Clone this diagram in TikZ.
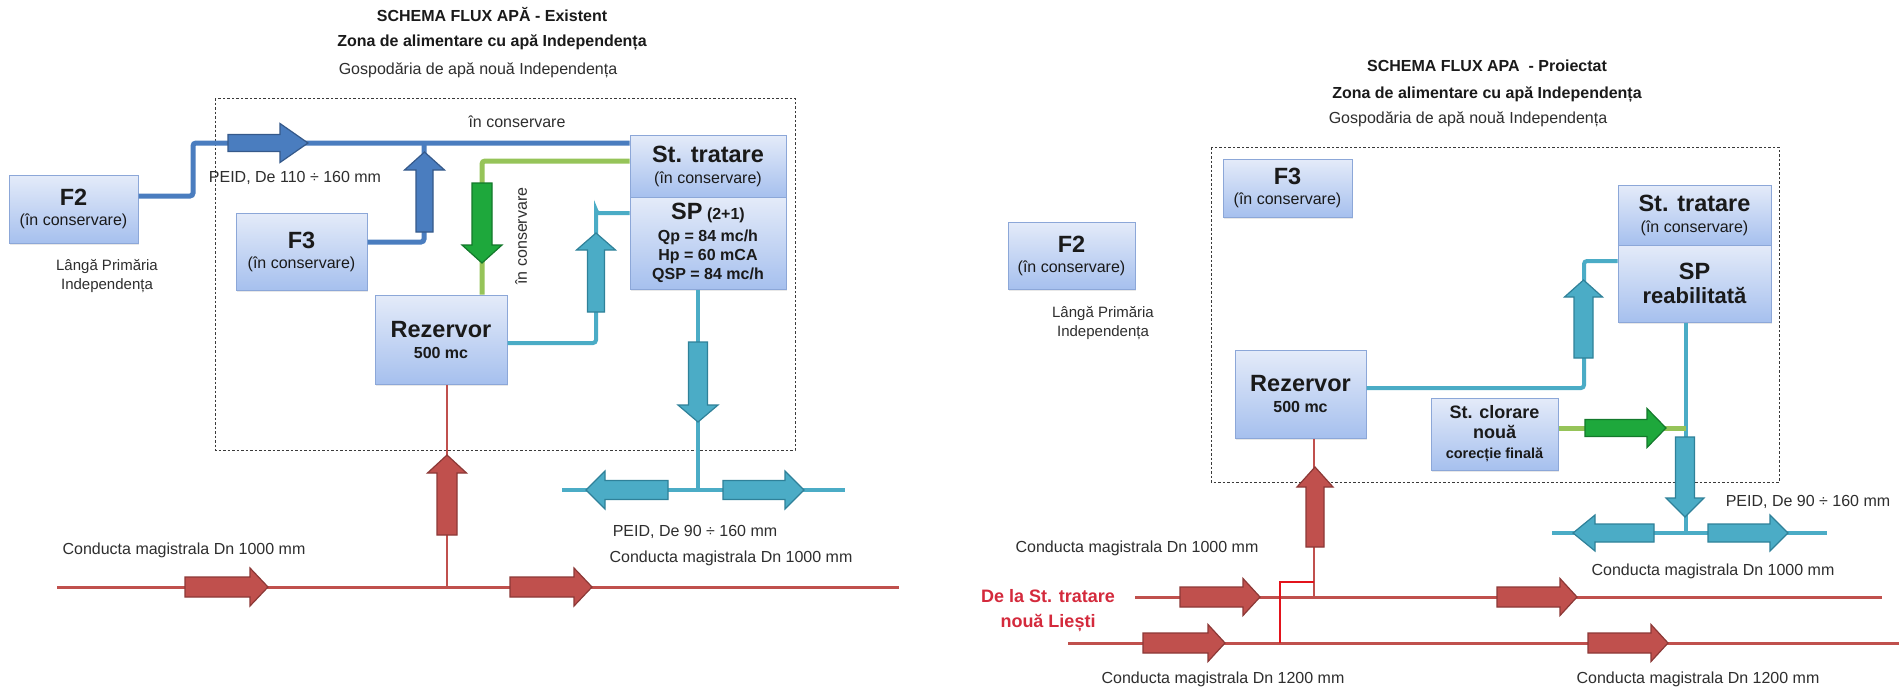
\documentclass[tikz,border=0pt]{standalone}
\usepackage{fontspec}
\setmainfont{Liberation Sans}
\usetikzlibrary{shadows}

\definecolor{boxtop}{HTML}{E4EBF9}
\definecolor{boxbot}{HTML}{A6C0EE}
\definecolor{boxline}{HTML}{8CA7D8}
\definecolor{bluepipe}{HTML}{4A7DBF}
\definecolor{bluedark}{HTML}{35598A}
\definecolor{greenpipe}{HTML}{96C459}
\definecolor{greenfill}{HTML}{1EA83C}
\definecolor{greendark}{HTML}{13792B}
\definecolor{tealpipe}{HTML}{4BACC6}
\definecolor{tealdark}{HTML}{2F8199}
\definecolor{redpipe}{HTML}{C0504D}
\definecolor{reddark}{HTML}{8C3836}
\definecolor{bypassred}{HTML}{E3131B}
\definecolor{txt}{HTML}{1A1A1A}
\definecolor{lbltxt}{HTML}{2E2E2E}
\definecolor{framecol}{HTML}{3A3A3A}
\definecolor{srcred}{HTML}{D42A3C}

\newcommand{\boxhead}{\fontsize{23.5}{19}\selectfont\bfseries}

\tikzset{
  % block arrow: length / body half-width / head half-width / head length
  pics/blockarrow/.style n args={4}{code={
    \path[pic actions] (0,{-#2}) -- ({#1-#4},{-#2}) -- ({#1-#4},{-#3}) -- (#1,0)
      -- ({#1-#4},#3) -- ({#1-#4},#2) -- (0,#2) -- cycle;}},
  bluearr/.style={fill=bluepipe, draw=bluedark, line width=1.2pt},
  greenarr/.style={fill=greenfill, draw=greendark, line width=1.2pt},
  tealarr/.style={fill=tealpipe, draw=tealdark, line width=1.2pt},
  redarr/.style={fill=redpipe, draw=reddark, line width=1.2pt},
  bluepipeline/.style={draw=bluepipe, line width=5pt, rounded corners=3pt},
  greenpipeline/.style={draw=greenpipe, line width=5pt, rounded corners=3pt},
  tealpipeline/.style={draw=tealpipe, line width=4pt, rounded corners=3pt},
  redpipeline/.style={draw=redpipe, line width=3pt},
  redbranch/.style={draw=redpipe, line width=2pt},
  bypassline/.style={draw=bypassred, line width=2.5pt},
  zone/.style={draw=framecol, line width=1pt, dash pattern=on 2.5pt off 2pt},
  box/.style={draw=boxline, line width=1pt, top color=boxtop, bottom color=boxbot,
    drop shadow={opacity=0.18, shadow xshift=1pt, shadow yshift=-2pt},
    inner sep=0pt, align=center, text=txt, font=\fontsize{16}{19}\selectfont},
  titletext/.style={inner sep=0pt, text=txt, font=\fontsize{16}{19}\selectfont\bfseries},
  plaintext/.style={inner sep=0pt, text=lbltxt, font=\fontsize{16}{19}\selectfont},
  note/.style={inner sep=0pt, text=lbltxt, align=center, font=\fontsize{15}{19}\selectfont},
  srclabel/.style={inner sep=0pt, text=srcred, align=center, font=\fontsize{18}{25}\selectfont\bfseries},
}

\begin{document}
\begin{tikzpicture}[x=1pt, y=-1pt]
\useasboundingbox (0,0) rectangle (1899,691);
\fill[white] (0,0) rectangle (1899,691);

%==================== existing layout ====================
\draw[zone] (215,98) rectangle (795,450);

\node[titletext] (ttlA) at (492,15) {SCHEMA FLUX APĂ - Existent};
\node[titletext] (subA) at (492,42) {Zona de alimentare cu apă Independența};
\node[plaintext] (gospA) at (478,70) {Gospodăria de apă nouă Independența};

% units
\node[box, minimum width=129, minimum height=68] (F2a) at (73.5,209)
  {{\boxhead F2}\\[1pt](în conservare)};
\node[box, minimum width=131, minimum height=77] (F3a) at (301.5,251.5)
  {{\boxhead F3}\\[1pt](în conservare)};
\node[box, minimum width=132, minimum height=89] (REZa) at (441,339.5)
  {{\boxhead Rezervor}\\[2pt]\bfseries 500 mc};
\node[box, minimum width=156, minimum height=62] (STa) at (708,166)
  {{\boxhead St. tratare}\\[2pt](în conservare)};
\node[box, minimum width=156, minimum height=92] (SPa) at (708,243)
  {{\boxhead SP} {\bfseries(2+1)}\\[3pt]\bfseries Qp = 84 mc/h\\\bfseries Hp = 60 mCA\\\bfseries QSP = 84 mc/h};

% pipe bends and junctions
\coordinate (a1) at (193,196);
\coordinate (a2) at (193,143);
\coordinate (a3) at (424,143);
\coordinate (a4) at (596,213);
\coordinate (a5) at (698,490);
\coordinate (a6) at (562,490);
\coordinate (a7) at (845,490);
\coordinate (a8) at (447,587);
\coordinate (a9) at (57,587);
\coordinate (a10) at (899,587);

\draw[bluepipeline] ([yshift=13]F2a.east) -- (a1) -- (a2) -- ([yshift=23]STa.west);
\draw[bluepipeline] ([yshift=9.5]F3a.east) -| (a3);
\draw[greenpipeline] ([yshift=5]STa.west) -| ([xshift=41]REZa.north);
\draw[tealpipeline] ([yshift=30]SPa.west) -| (a4) |- ([yshift=-3.5]REZa.east);
\draw[tealpipeline] ([xshift=-10]SPa.south) -- (a5);
\draw[tealpipeline] (a6) -- (a7);
\draw[redbranch] ([xshift=6]REZa.south) -- (a8);
\draw[redpipeline] (a9) -- (a10);

% flow arrows
\pic[bluearr] at (228,143) {blockarrow={80}{8.5}{19.5}{28}};
\pic[bluearr, rotate=90] at (424.5,232) {blockarrow={80}{8.5}{20}{18}};
\pic[greenarr, rotate=-90] at (482,183) {blockarrow={80}{10}{20}{18}};
\pic[tealarr, rotate=90] at (596,312) {blockarrow={79}{8.5}{19.5}{17}};
\pic[tealarr, rotate=-90] at (698,342) {blockarrow={80}{9.5}{20}{17}};
\pic[tealarr, rotate=180] at (668,490) {blockarrow={82}{9.5}{19}{19}};
\pic[tealarr] at (723,490) {blockarrow={81}{9.5}{19}{19}};
\pic[redarr, rotate=90] at (447,535) {blockarrow={80}{10}{19.5}{18}};
\pic[redarr] at (185,587) {blockarrow={83}{10}{19}{18}};
\pic[redarr] at (510,587) {blockarrow={82}{10}{19}{18}};

% labels
\node[plaintext] (lA1) at (517,122) {în conservare};
\node[plaintext] (lA2) at (295,178) {PEID, De 110 ÷ 160 mm};
\node[note] (lA3) at (107,276) {Lângă Primăria\\Independența};
\node[plaintext, rotate=90] (lA4) at (521,236) {în conservare};
\node[plaintext] (lA5) at (695,532) {PEID, De 90 ÷ 160 mm};
\node[plaintext] (lA6) at (184,550) {Conducta magistrala Dn 1000 mm};
\node[plaintext] (lA7) at (731,558) {Conducta magistrala Dn 1000 mm};

%==================== projected layout ====================
\draw[zone] (1211,147) rectangle (1779,482);

\node[titletext] (ttlB) at (1487,66) {SCHEMA FLUX APA\ \ - Proiectat};
\node[titletext] (subB) at (1487,94) {Zona de alimentare cu apă Independența};
\node[plaintext] (gospB) at (1468,119) {Gospodăria de apă nouă Independența};

\node[box, minimum width=127, minimum height=67] (F2b) at (1071.5,255.5)
  {{\boxhead F2}\\[1pt](în conservare)};
\node[box, minimum width=129, minimum height=58] (F3b) at (1287.5,188)
  {{\boxhead F3}\\[1pt](în conservare)};
\node[box, minimum width=131, minimum height=88] (REZb) at (1300.5,394)
  {{\boxhead Rezervor}\\[2pt]\bfseries 500 mc};
\node[box, minimum width=153, minimum height=60] (STb) at (1694.5,215)
  {{\boxhead St. tratare}\\[2pt](în conservare)};
\node[box, minimum width=153, minimum height=77] (SPb) at (1694.5,283.5)
  {{\boxhead SP}\\[5pt]{\fontsize{22}{19}\selectfont\bfseries reabilitată}};
\node[box, minimum width=127, minimum height=72, font=\fontsize{18}{20}\selectfont\bfseries]
  (CLb) at (1494.5,434) {St. clorare\\nouă\\{\fontsize{14.5}{20}\selectfont corecție finală}};

\coordinate (b1) at (1584,261);
\coordinate (b2) at (1686,533);
\coordinate (b3) at (1686,428);
\coordinate (b4) at (1552,533);
\coordinate (b5) at (1827,533);
\coordinate (b6) at (1314,597);
\coordinate (b7) at (1135,597);
\coordinate (b8) at (1882,597);
\coordinate (b9) at (1068,643);
\coordinate (b10) at (1899,643);
\coordinate (b11) at (1280,643);
\coordinate (b12) at (1280,582);
\coordinate (b13) at (1314,582);

\draw[tealpipeline] ([yshift=6]REZb.east) -| (b1) -- ([yshift=22.5]SPb.west);
\draw[tealpipeline] ([xshift=-8.5]SPb.south) -- (b2);
\draw[greenpipeline] ([yshift=6]CLb.east) -- (b3);
\draw[tealpipeline] (b4) -- (b5);
\draw[redbranch] ([xshift=13.5]REZb.south) -- (b6);
\draw[redpipeline] (b7) -- (b8);
\draw[redpipeline] (b9) -- (b10);
\draw[bypassline] (b11) -- (b12) -- (b13);

\pic[tealarr, rotate=90] at (1583.5,358) {blockarrow={78}{9.5}{19}{17}};
\pic[greenarr] at (1585,428) {blockarrow={81}{8.5}{19.5}{19}};
\pic[tealarr, rotate=-90] at (1685,437) {blockarrow={80}{9.5}{19}{19}};
\pic[tealarr, rotate=180] at (1654,533) {blockarrow={81}{9}{18}{22}};
\pic[tealarr] at (1708,533) {blockarrow={80}{9}{18}{18}};
\pic[redarr, rotate=90] at (1315,547) {blockarrow={80}{9}{18}{20}};
\pic[redarr] at (1180,597) {blockarrow={80}{10}{18.5}{17}};
\pic[redarr] at (1497,597) {blockarrow={80}{10}{18.5}{17}};
\pic[redarr] at (1143,643) {blockarrow={82}{10}{18.5}{17}};
\pic[redarr] at (1588,643) {blockarrow={80}{10}{18.5}{17}};

\node[note] (lB1) at (1103,323) {Lângă Primăria\\Independența};
\node[plaintext] (lB2) at (1808,502) {PEID, De 90 ÷ 160 mm};
\node[plaintext] (lB3) at (1713,571) {Conducta magistrala Dn 1000 mm};
\node[plaintext] (lB4) at (1137,548) {Conducta magistrala Dn 1000 mm};
\node[plaintext] (lB5) at (1223,679) {Conducta magistrala Dn 1200 mm};
\node[plaintext] (lB6) at (1698,679) {Conducta magistrala Dn 1200 mm};
\node[srclabel] (lB7) at (1048,611) {De la St. tratare\\nouă Liești};
\end{tikzpicture}
\end{document}
